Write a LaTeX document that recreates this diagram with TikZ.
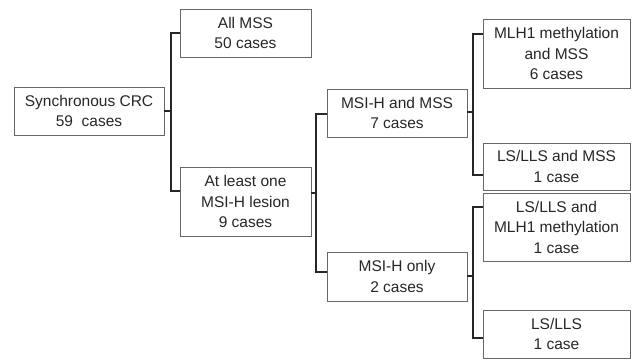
\documentclass[tikz,border=0pt]{standalone}
\usepackage{fontspec}
\setmainfont{Liberation Sans}
\begin{document}
\begin{tikzpicture}[x=1pt,y=-1pt,
  box/.style={draw=black!60, line width=0.9pt, align=center, inner sep=1pt,
    font=\fontsize{15.5}{20.5}\selectfont, text=black!85},
  link/.style={draw=black!85, line width=1.3pt}]
\useasboundingbox (0,0) rectangle (633,362);
\node[box, minimum width=150, minimum height=48] (sync) at (89,111) {Synchronous CRC\\59\ \ cases};
\node[box, minimum width=131, minimum height=48] (allmss) at (245.5,33) {All MSS\\50 cases};
\node[box, minimum width=131, minimum height=69] (atleast) at (245.5,201.5) {At least one\\MSI-H lesion\\9 cases};
\node[box, minimum width=140, minimum height=48] (msimss) at (397,113) {MSI-H and MSS\\7 cases};
\node[box, minimum width=140, minimum height=49] (msionly) at (397,276.5) {MSI-H only\\2 cases};
\node[box, minimum width=147, minimum height=69] (mlh) at (556.5,53.5) {MLH1 methylation\\and MSS\\6 cases};
\node[box, minimum width=147, minimum height=47] (lsmss) at (556.5,166.5) {LS/LLS and MSS\\1 case};
\node[box, minimum width=147, minimum height=68] (lsmlh) at (556.5,227) {LS/LLS and\\MLH1 methylation\\1 case};
\node[box, minimum width=147, minimum height=48] (lsonly) at (556.5,334) {LS/LLS\\1 case};
\coordinate (b1) at (171,111);
\coordinate (b2) at (316,193);
\coordinate (b3) at (473,112);
\coordinate (b4) at (473,276);
\draw[link] (sync.east) -- (b1);
\draw[link] (b1) |- (allmss.west);
\draw[link] (b1) |- ([yshift=10.5pt]atleast.west);
\draw[link] ([yshift=8.5pt]atleast.east) -- (b2);
\draw[link] (b2) |- ([yshift=-1pt]msimss.west);
\draw[link] (b2) |- ([yshift=4.5pt]msionly.west);
\draw[link] (msimss.east |- b3) -- (b3);
\draw[link] (b3) |- ([yshift=19.5pt]mlh.west);
\draw[link] (b3) |- ([yshift=-8.5pt]lsmss.west);
\draw[link] (msionly.east |- b4) -- (b4);
\draw[link] (b4) |- ([yshift=20pt]lsmlh.west);
\draw[link] (b4) |- ([yshift=-4pt]lsonly.west);
\end{tikzpicture}
\end{document}
